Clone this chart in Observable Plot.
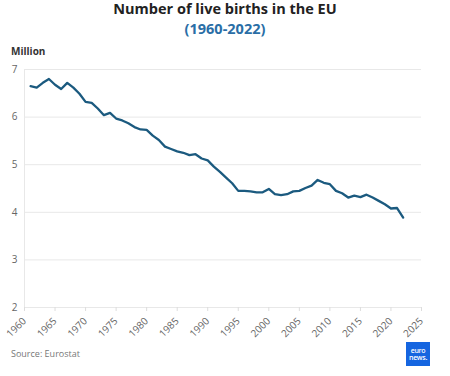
<!DOCTYPE html>
<html>
<head>
<meta charset="utf-8">
<script src="https://cdn.jsdelivr.net/npm/d3@7"></script>
<script src="https://cdn.jsdelivr.net/npm/@observablehq/plot@0.6"></script>
<style>
  html, body { margin: 0; padding: 0; background: #fff; }
  #wrap { position: relative; width: 450px; height: 376px; font-family: "Open Sans", sans-serif; overflow: hidden; }
  #chart { position: absolute; left: 0; top: 0; }
  .t { position: absolute; left: 0; width: 450px; text-align: center; font-weight: 700; white-space: nowrap; }
  #title { top: 0px; font-size: 14.5px; line-height: 18px; color: #222; }
  #subtitle { top: 20px; font-size: 14.5px; line-height: 17px; color: #2a6ea6; }
  #unit { position: absolute; left: 11px; top: 45px; font-size: 10px; line-height: 13px; font-weight: 700; color: #333; }
  #source { position: absolute; left: 11px; top: 348px; font-size: 9px; line-height: 12px; color: #777; }
  #logo { position: absolute; left: 406px; top: 342px; width: 24px; height: 24px; background: #1565e0; }
  #logo span { position: absolute; left: 2px; top: 5px; width: 20px; text-align: center; color: #fff; font-size: 7px; line-height: 7px; letter-spacing: -0.3px; font-weight: 600; }
</style>
</head>
<body>
<div id="wrap">
  <div id="chart"></div>
  <div class="t" id="title">Number of live births in the EU</div>
  <div class="t" id="subtitle">(1960-2022)</div>
  <div id="unit">Million</div>
  <div id="source">Source: Eurostat</div>
  <div id="logo"><span>euro news.</span></div>
</div>
<script>
const years = [1961,1962,1963,1964,1965,1966,1967,1968,1969,1970,1971,1972,1973,1974,1975,1976,1977,1978,1979,1980,1981,1982,1983,1984,1985,1986,1987,1988,1989,1990,1991,1992,1993,1994,1995,1996,1997,1998,1999,2000,2001,2002,2003,2004,2005,2006,2007,2008,2009,2010,2011,2012,2013,2014,2015,2016,2017,2018,2019,2020,2021,2022];
const births = [6.65,6.62,6.72,6.80,6.68,6.59,6.72,6.62,6.49,6.32,6.30,6.18,6.04,6.09,5.97,5.93,5.87,5.79,5.74,5.73,5.61,5.52,5.38,5.33,5.28,5.25,5.20,5.22,5.13,5.09,4.96,4.85,4.73,4.61,4.45,4.45,4.44,4.42,4.42,4.49,4.38,4.36,4.38,4.44,4.45,4.51,4.56,4.68,4.62,4.59,4.45,4.40,4.31,4.35,4.32,4.37,4.31,4.24,4.17,4.08,4.09,3.89];
const xTicks = [1960,1965,1970,1975,1980,1985,1990,1995,2000,2005,2010,2015,2020,2025];
const yTicks = [2,3,4,5,6,7];

const data = years.map((y, i) => ({year: y, value: births[i]}));

const chart = Plot.plot({
  width: 450,
  height: 376,
  marginLeft: 24,
  marginRight: 29,
  marginTop: 69,
  marginBottom: 69,
  style: {fontFamily: "Open Sans, sans-serif", fontSize: "10px", color: "#666", background: "transparent"},
  x: {domain: [1960, 2025], label: null},
  y: {domain: [2, 7], label: null},
  marks: [
    Plot.gridY(yTicks, {stroke: "#e8e8e8", strokeOpacity: 1, strokeWidth: 1}),
    Plot.ruleX([1960], {stroke: "#e8e8e8"}),
    Plot.axisY({ticks: yTicks, tickFormat: d => String(d), tickSize: 0, tickPadding: 7, fill: "#666", label: null}),
    Plot.axisX({ticks: xTicks, tickFormat: d => String(d), tickRotate: -45, tickSize: 4, stroke: "#ddd", fill: "#666", label: null}),
    Plot.line(data, {x: "year", y: "value", stroke: "#1b5a7f", strokeWidth: 2.3, curve: "linear"})
  ]
});
document.getElementById("chart").appendChild(chart);
</script>
</body>
</html>
